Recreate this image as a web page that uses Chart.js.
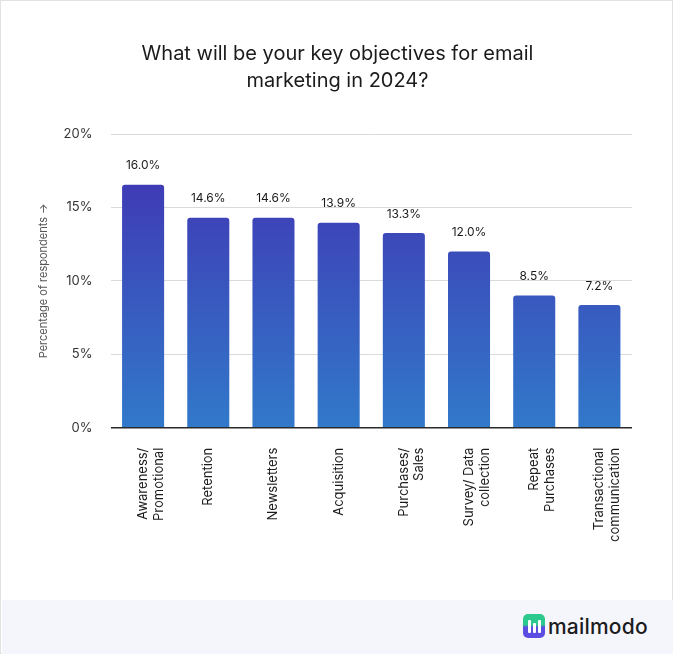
<!DOCTYPE html>
<html>
<head>
<meta charset="utf-8">
<script src="https://cdn.jsdelivr.net/npm/chart.js@4.4.1/dist/chart.umd.min.js"></script>
<style>
  body { margin: 0; background: #fff; }
  #card {
    position: absolute; left: 0; top: 0; width: 673px; height: 654px;
    box-sizing: border-box; border: 1px solid #e2e2e2; background: #fff;
  }
  #chart { position: absolute; left: 0; top: 0; }
  #title {
    position: absolute; left: 0; top: 39px; width: 673px; text-align: center;
    font-family: Inter, sans-serif; font-size: 20px; line-height: 27px; color: #1b1b1b;
  }
  #footer {
    position: absolute; left: 1px; top: 599px; width: 671px; height: 54px;
    background: #f5f6fc;
  }
  #logo {
    position: absolute; left: 521px; top: 13px; height: 26px;
    display: flex; align-items: center;
  }
  #icon {
    position: relative; width: 22px; height: 24px; border-radius: 5px;
    background: linear-gradient(#2cc98e 0%, #2cc98e 45%, #5b4de2 55%, #5b4de2 100%);
  }
  #icon span { position: absolute; width: 3px; background: #fff; border-radius: 1px; }
  #brand {
    margin-left: 3px; font-family: Inter, sans-serif; font-size: 21px;
    font-weight: 500; color: #1c1c1c; letter-spacing: 0.2px;
  }
</style>
</head>
<body>
<div id="card">
  <canvas id="chart" width="673" height="598"></canvas>
  <div id="title">What will be your key objectives for email<br>marketing in 2024?</div>
  <div id="footer">
    <div id="logo">
      <div id="icon">
        <span style="left:5px; top:6px; height:13px;"></span>
        <span style="left:10px; top:9px; height:10px;"></span>
        <span style="left:15px; top:6px; height:13px;"></span>
      </div>
      <div id="brand">mailmodo</div>
    </div>
  </div>
</div>
<script>
// DATA ----------------------------
let categories = [
  ["Awareness/", "Promotional"],
  "Retention",
  "Newsletters",
  "Acquisition",
  ["Purchases/", "Sales"],
  ["Survey/ Data", "collection"],
  ["Repeat", "Purchases"],
  ["Transactional", "communication"]
];
// bar heights as drawn in the picture
let barValues = [16.55, 14.3, 14.3, 13.95, 13.25, 12.0, 9.0, 8.35];
// the printed labels above the bars
let barLabels = ["16.0%", "14.6%", "14.6%", "13.9%", "13.3%", "12.0%", "8.5%", "7.2%"];
let yTicks = [0, 5, 10, 15, 20];

// labels above the bars
const barLabelPlugin = {
  id: 'barLabels',
  afterDatasetsDraw(chart) {
    const ctx = chart.ctx;
    const meta = chart.getDatasetMeta(0);
    ctx.save();
    ctx.font = '12px Inter';
    ctx.fillStyle = '#1a1a1a';
    ctx.textAlign = 'center';
    ctx.textBaseline = 'middle';
    meta.data.forEach((bar, i) => {
      ctx.fillText(barLabels[i], bar.x, bar.y - 19);
    });
    ctx.restore();
  }
};

function barGradient(context) {
  const chart = context.chart;
  const area = chart.chartArea;
  if (!area) return '#3a5cbf';
  const y = chart.scales.y;
  const g = chart.ctx.createLinearGradient(0, y.getPixelForValue(Math.max(...barValues)), 0, area.bottom);
  g.addColorStop(0, '#3f3cb5');
  g.addColorStop(1, '#3179ca');
  return g;
}

new Chart(document.getElementById('chart'), {
  type: 'bar',
  data: {
    labels: categories,
    datasets: [{
      data: barValues,
      backgroundColor: barGradient,
      borderRadius: { topLeft: 3, topRight: 3 },
      borderSkipped: 'start',
      barPercentage: 0.645,
      categoryPercentage: 1
    }]
  },
  plugins: [barLabelPlugin],
  options: {
    responsive: false,
    animation: false,
    layout: { padding: { left: 0, right: 42, top: 133, bottom: 0 } },
    plugins: {
      legend: { display: false },
      tooltip: { enabled: false },
      title: { display: false }
    },
    scales: {
      y: {
        min: 0,
        max: 20,
        afterBuildTicks(scale) {
          scale.ticks = yTicks.map(v => ({ value: v }));
        },
        afterFit(scale) { scale.width = 109.5; },
        border: { display: false },
        grid: {
          drawTicks: false,
          color: ctx => ctx.tick && ctx.tick.value === 0 ? '#2a2a2a' : '#dadada',
          lineWidth: ctx => ctx.tick && ctx.tick.value === 0 ? 1.5 : 1
        },
        ticks: {
          padding: 18,
          color: '#333',
          font: { family: 'Inter', size: 13 },
          callback: v => v + '%'
        },
        title: {
          display: true,
          text: 'Percentage of respondents →',
          color: '#555',
          font: { family: 'Inter', size: 11 },
          padding: { top: 36, bottom: 0 }
        }
      },
      x: {
        afterFit(scale) { scale.height = 171.3; },
        border: { display: false },
        grid: { display: false },
        ticks: {
          minRotation: 90,
          maxRotation: 90,
          autoSkip: false,
          padding: 12,
          color: '#1a1a1a',
          font: { family: 'Inter', size: 13, lineHeight: 1.2 }
        }
      }
    }
  }
});
</script>
</body>
</html>
